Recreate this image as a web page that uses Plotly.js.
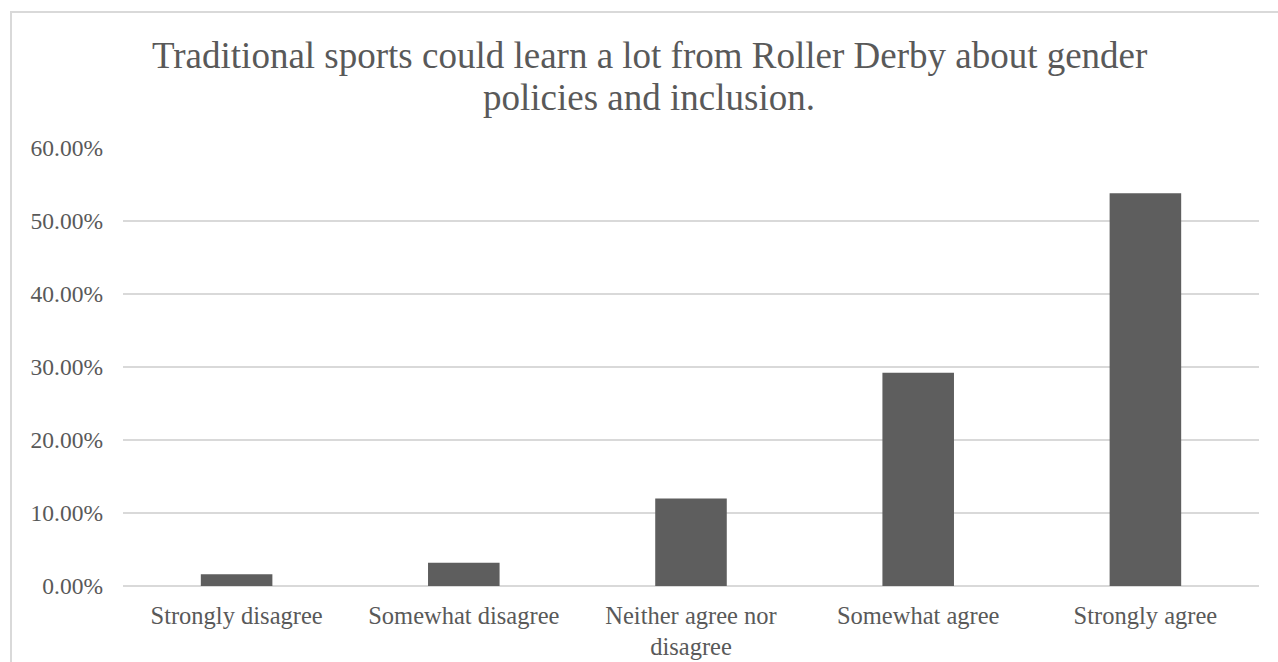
<!DOCTYPE html>
<html>
<head>
<meta charset="utf-8">
<script src="https://cdn.plot.ly/plotly-3.0.1.min.js"></script>
<style>
  html, body { margin: 0; padding: 0; background: #ffffff; overflow: hidden; }
  #wrap { position: relative; width: 1278px; height: 662px; }
  #chart { position: absolute; left: 0; top: 0; width: 1278px; height: 662px; }
  #frame { position: absolute; left: 10px; top: 11px; width: 1300px; height: 700px;
           border: 2px solid #d9d9d9; pointer-events: none; box-sizing: border-box; }
</style>
</head>
<body>
<div id="wrap">
  <div id="chart"></div>
  <div id="frame"></div>
</div>
<script>
const titleLines = [
  "Traditional sports could learn a lot from Roller Derby about gender",
  "policies and inclusion."
];
const categories = [
  "Strongly disagree",
  "Somewhat disagree",
  "Neither agree nor<br>disagree",
  "Somewhat agree",
  "Strongly agree"
];
const shares = [0.016, 0.032, 0.120, 0.292, 0.538];
const yTickValues = [0, 0.1, 0.2, 0.3, 0.4, 0.5, 0.6];

const serif = "'Liberation Serif', 'Times New Roman', serif";
const textColor = "#595959";

const trace = {
  type: "bar",
  x: categories,
  y: shares,
  marker: { color: "#5e5e5e", line: { width: 0 } },
  hoverinfo: "skip"
};

const plotTop = 148, plotBottom = 586, plotLeft = 123, plotRight = 1259;
const plotH = plotBottom - plotTop;
const plotW = plotRight - plotLeft;
const titleCenterX = (649 - plotLeft) / plotW;

const layout = {
  width: 1278,
  height: 662,
  margin: { l: plotLeft, r: 1278 - plotRight, t: plotTop, b: 662 - plotBottom, pad: 0 },
  paper_bgcolor: "rgba(0,0,0,0)",
  plot_bgcolor: "rgba(0,0,0,0)",
  showlegend: false,
  bargap: 0.685,
  font: { family: serif, color: textColor, size: 24 },
  xaxis: {
    type: "category",
    showgrid: false,
    zeroline: false,
    showline: false,
    ticks: "",
    tickfont: { family: serif, size: 24.5, color: textColor },
    ticklabelstandoff: 12,
    fixedrange: true
  },
  yaxis: {
    range: [0, 0.6],
    tickvals: yTickValues,
    tickformat: ".2%",
    showgrid: true,
    gridcolor: "#d9d9d9",
    gridwidth: 1.5,
    zeroline: true,
    zerolinecolor: "#d9d9d9",
    zerolinewidth: 1.5,
    showline: false,
    ticks: "",
    tickfont: { family: serif, size: 23.5, color: textColor },
    ticklabelstandoff: 19,
    fixedrange: true
  },
  annotations: [
    {
      text: titleLines[0],
      xref: "paper", yref: "paper",
      x: titleCenterX, y: 1 + (plotTop - 55) / plotH,
      xanchor: "center", yanchor: "middle",
      showarrow: false,
      font: { family: serif, size: 37, color: textColor }
    },
    {
      text: titleLines[1],
      xref: "paper", yref: "paper",
      x: titleCenterX, y: 1 + (plotTop - 97) / plotH,
      xanchor: "center", yanchor: "middle",
      showarrow: false,
      font: { family: serif, size: 37, color: textColor }
    }
  ]
};

Plotly.newPlot("chart", [trace], layout, { displayModeBar: false, staticPlot: true });
</script>
</body>
</html>
